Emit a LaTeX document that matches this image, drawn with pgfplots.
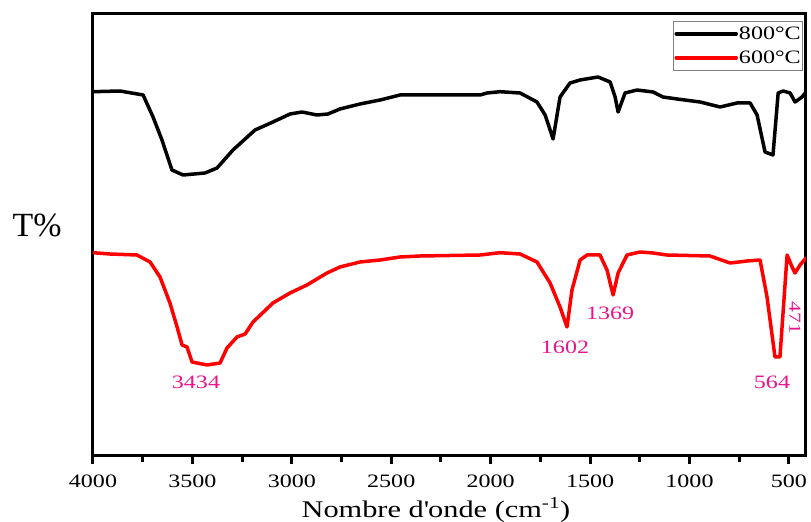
\documentclass[border=0pt]{standalone}
\usepackage{pgfplots}
\pgfplotsset{compat=1.18}
\usepackage{fontspec}
\setmainfont[FakeStretch=1.27]{Liberation Serif}
\newfontfamily\plainserif{Liberation Serif}
\definecolor{pinklab}{RGB}{235,20,140}
\begin{document}
\begin{tikzpicture}
\begin{axis}[
  scale only axis,
  width=713bp, height=441bp,
  x dir=reverse,
  xmin=414, xmax=4000,
  ymin=-455, ymax=-14,
  xtick={500,1000,...,4000},
  minor x tick num=1,
  ytick=\empty,
  xtick pos=bottom,
  tick align=outside,
  major tick length=9bp,
  minor tick length=7bp,
  every tick/.style={line width=3bp, black},
  axis line style={line width=3bp},
  /pgf/number format/assume math mode=true,
  /pgf/number format/set thousands separator={},
  ticklabel style={font=\fontsize{19}{19}\selectfont},
  xticklabel style={yshift=-7bp},
  xlabel={Nombre d\textquotesingle onde (cm\textsuperscript{-1})},
  xlabel style={font=\fontsize{24}{24}\selectfont, at={(axis description cs:0.481,-0.124)}, anchor=center},
  ylabel={\plainserif T\%},
  ylabel style={font=\fontsize{34}{34}\selectfont, rotate=-90, at={(axis description cs:-0.0785,0.52)}, anchor=center},
  legend style={at={(1,1)}, anchor=north east, xshift=-3bp, yshift=-7bp, draw=gray, line width=0.6bp,
    font=\fontsize{19}{20}\selectfont, inner xsep=1bp, inner ysep=3bp, row sep=5bp,
    nodes={inner xsep=1bp, inner ysep=2.5bp}},
  legend cell align=left,
  legend image code/.code={\draw[#1, line width=3.5bp] (0bp,0bp) -- (60bp,0bp);},
]
\addplot[black, line width=3.5bp, line join=round, line cap=round] coordinates {
(4000,-91.7)(3864,-91)(3748,-95)(3698,-117)(3653,-140)(3603,-170)(3547,-175)(3437,-173)(3376,-168)(3296,-150)(3185,-130)(3095,-122)(3009,-114)(2949,-112)(2873,-115)(2818,-114)(2758,-109)(2657,-104)(2556,-100)(2456,-95)(2255,-95)(2053,-95)(2018,-93)(1953,-91.7)(1852,-93)(1767,-102)(1726,-115)(1686,-139)(1651,-97)(1601,-83)(1550,-80)(1460,-77)(1399,-82)(1374,-97)(1359,-112)(1324,-93)(1264,-90)(1183,-92)(1133,-97)(1062,-99)(947,-102)(846,-107)(761,-103)(695,-103)(660,-115)(620,-152)(580,-155)(554,-93)(529,-91)(494,-93)(469,-102)(434,-97)(414,-92)
};
\addlegendentry{800°C}
\addplot[red, line width=3.5bp, line join=round, line cap=round] coordinates {
(4000,-252.7)(3914,-254)(3779,-255)(3713,-262)(3663,-277)(3613,-303)(3577,-327)(3552,-345)(3527,-347)(3502,-362)(3427,-365)(3361,-363)(3326,-348)(3276,-337)(3235,-334)(3195,-322)(3095,-303)(3009,-293)(2924,-285)(2823,-273)(2758,-267)(2657,-262)(2556,-260)(2456,-257)(2355,-256)(2053,-255)(1953,-252.7)(1852,-254)(1767,-262)(1701,-283)(1651,-307)(1616,-327)(1591,-290)(1550,-260)(1515,-255)(1450,-255)(1415,-270)(1384,-295)(1359,-273)(1314,-255)(1249,-252)(1183,-253)(1113,-255)(897,-256)(796,-263)(710,-261)(645,-260)(610,-297)(570,-357)(545,-357)(509,-255)(484,-267)(469,-273)(444,-265)(414,-258)
};
\addlegendentry{600°C}
\node[pinklab, font=\fontsize{19}{19}\selectfont] at (axis cs:3482,-382) {3434};
\node[pinklab, font=\fontsize{19}{19}\selectfont] at (axis cs:1626,-347) {1602};
\node[pinklab, font=\fontsize{19}{19}\selectfont] at (axis cs:1399,-313) {1369};
\node[pinklab, font=\fontsize{19}{19}\selectfont] at (axis cs:585,-382) {564};
\node[pinklab, font=\fontsize{17}{17}\selectfont, rotate=-90] at (axis cs:469,-318) {471};
\end{axis}
\pgfresetboundingbox
\path[use as bounding box] (current axis.south west) ++(-93bp,-67bp) rectangle ++(811bp,522bp);
\end{tikzpicture}
\end{document}
